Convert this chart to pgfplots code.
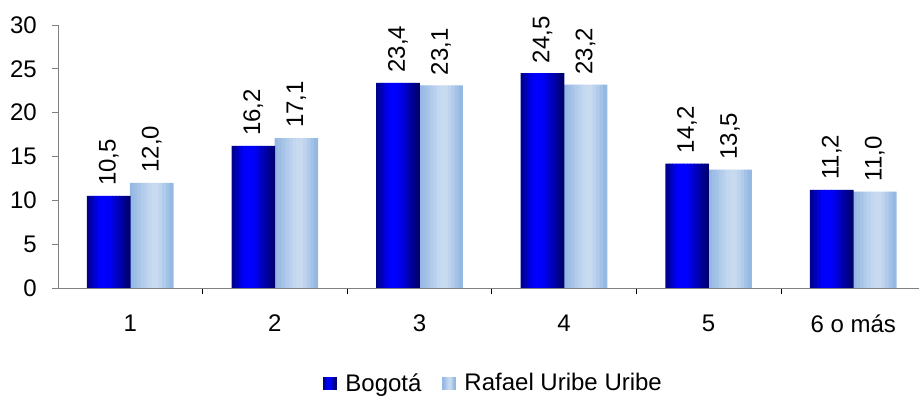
\documentclass[border=0pt]{standalone}
\usepackage{fontspec}
\setmainfont{Liberation Sans}
\usepackage{pgfplots}
\pgfplotsset{compat=1.18}

\definecolor{darkA}{HTML}{000080}
\definecolor{darkB}{HTML}{0000FF}
\definecolor{darkC}{HTML}{00006A}
\definecolor{lightA}{HTML}{90B5E3}
\definecolor{lightB}{HTML}{C8DAF0}
\definecolor{lightC}{HTML}{8FB4E2}
\definecolor{axisgray}{HTML}{808080}

\tikzset{value label/.style={
    rotate=90, anchor=west, inner sep=0pt, xshift=10pt, yshift=#1,
    font=\fontsize{24}{28}\selectfont, color=black,
    /pgf/number format/.cd, fixed, fixed zerofill, precision=1, use comma, assume math mode=true}}

% data
\pgfplotstableread{
x  bogota rafael
1  10.5   12.0
2  16.2   17.1
3  23.4   23.1
4  24.5   23.2
5  14.2   13.5
6  11.2   11.0
}\datatable

% gradient slices: 12 per bar
\foreach \i in {0,...,11}{
  \pgfmathsetmacro\p{(\i+0.5)/12}
  \pgfmathsetmacro\da{\p<0.3 ? 100*\p/0.3 : (\p<0.5 ? 100 : 100*(1-(\p-0.5)/0.5))}
  \xglobal\colorlet{dk\i}{darkB!\da!darkC}
  \ifdim\p pt<0.4pt
    \xglobal\colorlet{dk\i}{darkB!\da!darkA}
  \fi
  \pgfmathsetmacro\lb{\p<0.5 ? 100*\p/0.5 : (\p<0.65 ? 100 : 100*(1-(\p-0.65)/0.35))}
  \xglobal\colorlet{lt\i}{lightB!\lb!lightC}
  \ifdim\p pt<0.58pt
    \xglobal\colorlet{lt\i}{lightB!\lb!lightA}
  \fi
}

\begin{document}
\begin{tikzpicture}
\fontsize{24}{28}\selectfont
\begin{axis}[
    name=ax,
    scale only axis,
    width=861pt, height=263pt,
    axis lines=left,
    axis line style={-, axisgray, line width=0.8pt},
    ymin=0, ymax=30,
    ytick={0,5,...,30},
    xmin=0.5, xmax=6.455,
    xtick={1,2,3,4,5,6},
    xticklabels={1,2,3,4,5,6 o más},
    minor xtick={1.5,2.5,3.5,4.5,5.5},
    tick align=outside,
    major tick length=6pt,
    minor tick length=6pt,
    x tick style={draw=none},
    minor x tick style={draw=black, line width=0.8pt},
    y tick style={axisgray, line width=0.8pt},
    tick label style={font=\fontsize{24}{28}\selectfont},
    xticklabel style={yshift=-13pt},
    yticklabel style={xshift=-7pt},
    /pgf/number format/assume math mode=true,
    legend style={at={(0.506,-0.365)}, anchor=center, draw=none,
        font=\fontsize{24}{28}\selectfont, legend columns=2,
        /tikz/every even column/.append style={column sep=19pt}},
]
% shaded bars, drawn as thin slices
\pgfplotsinvokeforeach{0,...,11}{
  \addplot[forget plot, ybar, draw=none, fill=dk#1, bar width=4.3pt,
    bar shift={-43pt+(#1+0.5)*3.5833pt}] table[x=x, y=bogota]{\datatable};
  \addplot[forget plot, ybar, draw=none, fill=lt#1, bar width=4.3pt,
    bar shift={(#1+0.5)*3.5833pt}] table[x=x, y=rafael]{\datatable};
}
% labels and legend entries
\addplot[ybar, draw=none, fill=none, bar width=43pt, bar shift=-21.5pt,
    nodes near coords,
    every node near coord/.append style={value label=21.5pt},
    legend image code/.code={
        \foreach \k in {0,...,11}{\fill[dk\k] ({\k*1.0833pt},-6.5pt) rectangle ({(\k+1)*1.0833pt+0.2pt},6.5pt);}
        \path (0pt,0pt) -- (20pt,0pt);}
    ] table[x=x, y=bogota]{\datatable};
\addplot[ybar, draw=none, fill=none, bar width=43pt, bar shift=21.5pt,
    nodes near coords,
    every node near coord/.append style={value label=-21.5pt},
    legend image code/.code={
        \foreach \k in {0,...,11}{\fill[lt\k] ({\k*1.0833pt},-6.5pt) rectangle ({(\k+1)*1.0833pt+0.2pt},6.5pt);}
        \path (0pt,0pt) -- (20pt,0pt);}
    ] table[x=x, y=rafael]{\datatable};
\legend{Bogotá, Rafael Uribe Uribe}
\end{axis}
\pgfresetboundingbox
\path[use as bounding box] ([xshift=-58pt,yshift=-108pt]ax.south west) rectangle ([yshift=25pt]ax.north east);
\end{tikzpicture}
\end{document}
